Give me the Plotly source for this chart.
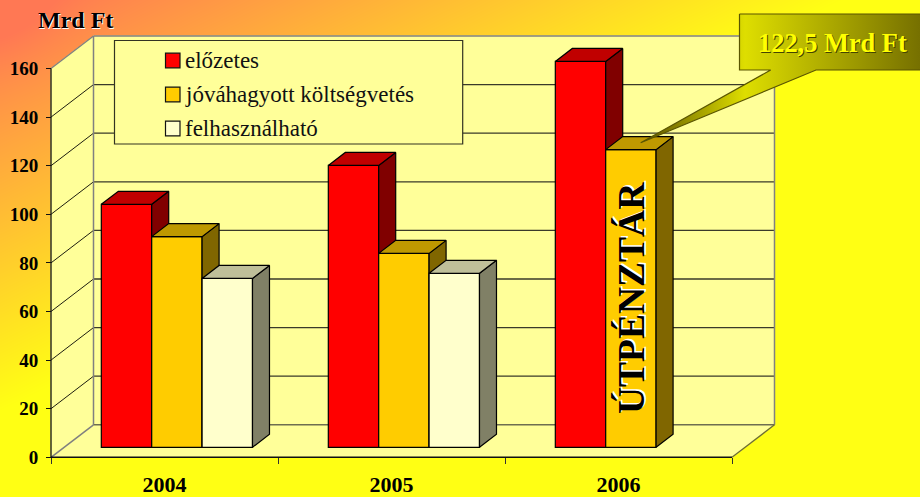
import base64, struct, zlib
import numpy as np
import plotly.graph_objects as go

# ---------- data ----------
years = ["2004", "2005", "2006"]
elozetes = [100.0, 116.0, 158.8]
jovahagyott = [86.7, 79.8, 122.5]
felhasznalhato = [69.5, 71.6, None]
y_ticks = [0, 20, 40, 60, 80, 100, 120, 140, 160]
series_names = ["előzetes", "jóváhagyott költségvetés", "felhasználható"]
front_colors = ["#FF0000", "#FFCC00", "#FFFFCC"]
side_colors = ["#800000", "#806600", "#808066"]
top_colors = ["#C00000", "#BF9900", "#BFBF99"]

# ---------- page geometry ----------
W, H = 920, 497
X0_PX, Y0_PX = 51.0, 457.3      # where category 0 / value 0 fall on the page
PX_X, PX_Y = 227.0, 2.43        # pixels per category / per value unit
DX, DY = 42.5 / PX_X, 32.5 / PX_Y   # full depth of the 3-D box, in axis units
X_RANGE = [-X0_PX / PX_X, (W - X0_PX) / PX_X]
Y_RANGE = [(Y0_PX - H) / PX_Y, Y0_PX / PX_Y]
def px(v): return (v - X0_PX) / PX_X
def py(v): return (Y0_PX - v) / PX_Y

BAR_W = 0.222
Z_FRONT, Z_LEN = 0.3077, 0.4
FLOOR = Z_FRONT * DY
dx, dy = Z_LEN * DX, Z_LEN * DY
START = 0.164 + Z_FRONT * DX

# ---------- background gradient image ----------
def gradient_uri():
    xx, yy = np.meshgrid(np.arange(W) + .5, np.arange(H) + .5)
    t = np.clip(xx / 820 + yy / 400 - 0.1 * np.exp(-((xx - 0) / 60) ** 2 - (yy / 60) ** 2) - 0.03, 0, 1)
    g = 120 + (255 - 120) * t
    b = 84 + (20 - 84) * t
    img = np.dstack([np.full_like(g, 255), g, b]).round().astype(np.uint8)
    raw = b"".join(b"\x00" + img[r].tobytes() for r in range(H))
    def chunk(tag, data):
        return struct.pack(">I", len(data)) + tag + data + struct.pack(">I", zlib.crc32(tag + data))
    png = (b"\x89PNG\r\n\x1a\n" + chunk(b"IHDR", struct.pack(">IIBBBBB", W, H, 8, 2, 0, 0, 0))
           + chunk(b"IDAT", zlib.compress(raw, 9)) + chunk(b"IEND", b""))
    return "data:image/png;base64," + base64.b64encode(png).decode()

fig = go.Figure()
shapes = []
WALL = "#FFFF99"; EDGE = "#808080"; GRID = "#3A3A2A"

def poly(pts):
    return "M" + "L".join(f"{a},{b}" for a, b in pts) + "Z"
def add_poly(pts, fill, line=None, width=1):
    shapes.append(dict(type="path", path=poly(pts), xref="x", yref="y", layer="below",
                       fillcolor=fill, line=dict(color=line or fill, width=width)))
def add_line(x0, y0, x1, y1, color, width=1):
    shapes.append(dict(type="line", x0=x0, y0=y0, x1=x1, y1=y1, xref="x", yref="y",
                       layer="below", line=dict(color=color, width=width)))

top = y_ticks[-1]
add_poly([(0, 0), (DX, DY), (DX, top + DY), (0, top)], WALL)      # left wall
add_poly([(DX, DY), (3 + DX, DY), (3 + DX, top + DY), (DX, top + DY)], WALL)  # back wall
add_poly([(0, 0), (3, 0), (3 + DX, DY), (DX, DY)], WALL)           # floor
for v in y_ticks[1:-1]:
    add_line(0, v, DX, v + DY, "#1E1E10", 1)
    add_line(DX, v + DY, 3 + DX, v + DY, GRID, 1.3)
add_line(0, top, DX, top + DY, EDGE, 1.3)
add_line(DX, top + DY, 3 + DX, top + DY, EDGE, 1.5)
add_line(DX, DY, DX, top + DY, EDGE, 1.5)
add_line(3 + DX, DY, 3 + DX, top + DY, EDGE, 1.5)
add_line(DX, DY, 3 + DX, DY, "#6E6E50", 1.5)
add_line(0, 0, DX, DY, EDGE, 1.5)
add_line(3, 0, 3 + DX, DY, "#6E6E30", 1.3)
add_line(0, 0, 0, top, "#111111", 1.3)
add_line(0, 0, 3, 0, "#111111", 1.6)

# legend box, swatches
add_poly([(px(114.5), py(40.5)), (px(462.7), py(40.5)), (px(462.7), py(144)), (px(114.5), py(144))], WALL, "#333322", 1.2)
legend_rows = [60.5, 94.5, 128.5]
for row, col in zip(legend_rows, front_colors):
    add_poly([(px(165.5), py(row - 7.3)), (px(180), py(row - 7.3)), (px(180), py(row + 7.3)), (px(165.5), py(row + 7.3))],
             col, "#111111", 1.2)

# ---------- bars: every series on its own overlaid axes so they stack front to back ----------
axis_ids = [("x", "y"), ("x2", "y2"), ("x3", "y3")]
for s, (vals, name) in enumerate(zip([elozetes, jovahagyott, felhasznalhato], series_names)):
    xa, ya = axis_ids[s]
    xs = [i + START + (s + .5) * BAR_W for i, v in enumerate(vals) if v is not None]
    ys = [v for v in vals if v is not None]
    fig.add_trace(go.Bar(x=xs, y=ys, base=FLOOR, width=BAR_W, name=name, xaxis=xa, yaxis=ya,
                         marker=dict(color=front_colors[s], line=dict(color="#000", width=1.2)),
                         showlegend=False, hovertemplate=name + ": %{y}<extra></extra>"))
    for x, v in zip(xs, ys):
        l, r, t = x - BAR_W / 2, x + BAR_W / 2, v + FLOOR
        for pts, col in (([(r, FLOOR), (r + dx, FLOOR + dy), (r + dx, t + dy), (r, t), (r, FLOOR)], side_colors[s]),
                         ([(l, t), (l + dx, t + dy), (r + dx, t + dy), (r, t), (l, t)], top_colors[s])):
            fig.add_trace(go.Scatter(x=[p[0] for p in pts], y=[p[1] for p in pts], mode="lines", fill="toself",
                                     fillcolor=col, line=dict(color="#000", width=1.2), xaxis=xa, yaxis=ya,
                                     showlegend=False, hoverinfo="skip"))

# ---------- callout ----------
call_px = [(739.5, 14), (925, 14), (925, 70), (816, 70), (640.7, 142.7), (770.7, 70), (739.5, 70), (739.5, 14)]
g0, g1 = px(640.7), px(920)
mid = (745 - 640.7) / (920 - 640.7)
fig.add_trace(go.Scatter(x=[px(a) for a, _ in call_px], y=[py(b) for _, b in call_px], mode="lines", fill="toself",
                         xaxis="x4", yaxis="y4", showlegend=False, hoverinfo="skip",
                         line=dict(color="#5A5500", width=1.2),
                         fillgradient=dict(type="horizontal", start=g0, stop=g1,
                                           colorscale=[[0, "#5A5000"], [mid, "#DEDE00"], [1, "#767000"]])))

SERIF = "Liberation Serif"
annotations = [
    dict(text="<b>Mrd Ft</b>", x=px(75.5), y=py(20), font=dict(family=SERIF, size=24, color="#000", shadow="1px 1px 0 #fff")),
    dict(text="<b>122,5 Mrd Ft</b>", x=px(832.5), y=py(43), font=dict(family=SERIF, size=26.4, color="#FFFF00", shadow="1px 1px 0 #444400")),
    dict(text="<b>ÚTPÉNZTÁR</b>", x=px(631), y=py(298), textangle=-90,
         font=dict(family=SERIF, size=37.5, color="#000", shadow="1.5px 1.5px 0 #fff")),
]
for row, name in zip(legend_rows, series_names):
    annotations.append(dict(text=name, x=px(183), y=py(row), xanchor="left",
                            font=dict(family=SERIF, size=23, color="#111")))
for a in annotations:
    a.update(xref="x4", yref="y4", showarrow=False)
    a.setdefault("xanchor", "center")
    a["yanchor"] = "middle"

hidden = dict(range=X_RANGE, domain=[0, 1], visible=False, fixedrange=True)
hidden_y = dict(range=Y_RANGE, domain=[0, 1], visible=False, fixedrange=True)
fig.update_layout(
    width=W, height=H, autosize=False, margin=dict(l=0, r=0, t=0, b=0, autoexpand=False),
    paper_bgcolor="#FFFF14", plot_bgcolor="rgba(0,0,0,0)", barmode="overlay", showlegend=False,
    font=dict(family=SERIF),
    images=[dict(source=gradient_uri(), xref="paper", yref="paper", x=0, y=1, sizex=1, sizey=1,
                 sizing="stretch", xanchor="left", yanchor="top", layer="below")],
    shapes=shapes, annotations=annotations,
    xaxis=dict(range=X_RANGE, domain=[0, 1], anchor="free", position=(H - Y0_PX) / H, showgrid=False,
               zeroline=False, showline=False, tickmode="array",
               tickvals=[i + .5 for i in range(len(years))], ticktext=[f"<b>{y}</b>" for y in years],
               ticks="", tickfont=dict(family=SERIF, size=22, color="#000"),
               minor=dict(tickmode="array", tickvals=list(range(len(years) + 1)), ticks="outside",
                          ticklen=6, tickcolor="#333", tickwidth=1.2, showgrid=False),
               ticklabelstandoff=12, fixedrange=True),
    yaxis=dict(range=Y_RANGE, domain=[0, 1], anchor="free", position=X0_PX / W, showgrid=False,
               zeroline=False, showline=False, tickmode="array", tickvals=y_ticks,
               ticktext=[f"<b>{v}</b>" for v in y_ticks], ticks="outside", ticklen=5, tickwidth=1.2,
               tickcolor="#111", tickfont=dict(family=SERIF, size=19, color="#000"),
               ticklabelstandoff=4, fixedrange=True),
)
for n in (2, 3, 4):
    fig.update_layout({f"xaxis{n}": dict(hidden, overlaying="x"), f"yaxis{n}": dict(hidden_y, overlaying="y")})

fig.write_html("out.html", config=dict(displayModeBar=False),
               post_script="document.body.style.margin='0';document.documentElement.style.overflow='hidden';")
